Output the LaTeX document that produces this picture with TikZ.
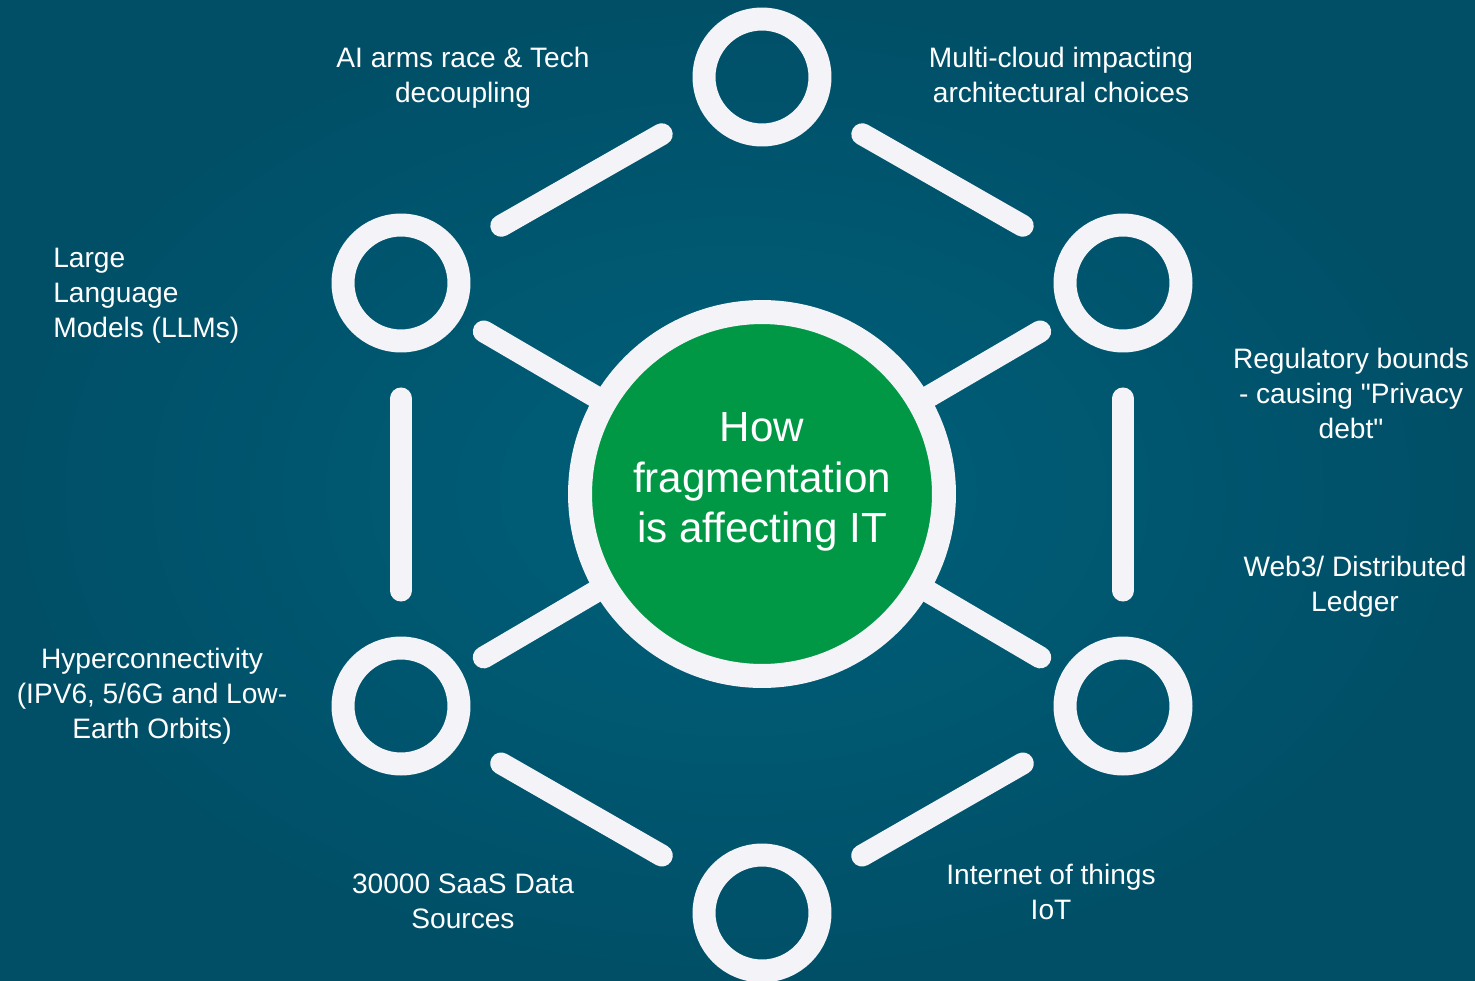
\documentclass[tikz,border=0pt]{standalone}
\usepackage{xcolor}
\usepackage{fontspec}
\usepackage{tikz}
\setmainfont[Ligatures=TeXOff]{Liberation Sans}

\definecolor{tealbg}{HTML}{00607A}
\definecolor{tealdark}{HTML}{004F67}
\definecolor{ringwhite}{HTML}{F4F4F8}
\definecolor{hubgreen}{HTML}{009845}

\begin{document}
\begin{tikzpicture}[x=0.02cm,y=-0.02cm,
	ring/.style={circle,draw=ringwhite,line width=0.46cm,minimum size=2.32cm,inner sep=0pt,outer sep=0pt},
	hub/.style={circle,draw=ringwhite,fill=hubgreen,line width=0.48cm,minimum size=7.28cm,inner sep=0pt,outer sep=0pt},
	bar/.style={draw=ringwhite,line width=0.44cm,line cap=round,shorten <=1.15cm,shorten >=1.15cm},
	spoke/.style={draw=ringwhite,line width=0.44cm,line cap=round,shorten <=0.76cm},
	lbl/.style={text=white,align=center,inner sep=0pt,font=\fontsize{16}{19.9}\selectfont}]
	 \useasboundingbox (0,0) rectangle (1475,981);
	 \shade[inner color=tealbg,outer color=tealdark] (0,0) rectangle (1475,981);
	 % hub and the six rings
	 \node[hub] (hub) at (762,494) {};
	 \node[ring] (top) at (762,77) {};
	 \node[ring] (topleft) at (401,283) {};
	 \node[ring] (topright) at (1123,283) {};
	 \node[ring] (botleft) at (401,706) {};
	 \node[ring] (botright) at (1123,706) {};
	 \node[ring] (bot) at (762,913) {};
	 \node[text=white,align=center,inner sep=0pt,font=\fontsize{24}{28.7}\selectfont] (hubtext) at ([yshift=0.24cm]hub.center) {How\\fragmentation\\is affecting IT};
	 % spokes to the hub
	 \draw[spoke] (topleft) -- (hub);
	 \draw[spoke] (topright) -- (hub);
	 \draw[spoke] (botleft) -- (hub);
	 \draw[spoke] (botright) -- (hub);
	 % hexagon bars
	 \draw[bar] (topleft) -- (top);
	 \draw[bar] (top) -- (topright);
	 \draw[bar] (topright) -- (botright);
	 \draw[bar] (botright) -- (bot);
	 \draw[bar] (bot) -- (botleft);
	 \draw[bar] (botleft) -- (topleft);
	 % labels
	 \node[lbl] (aiarms) at (463,78) {AI arms race \& Tech\\decoupling};
	 \node[lbl] (multicloud) at (1061,75) {Multi-cloud impacting\\architectural choices};
	 \node[lbl,anchor=west,align=left] (llms) at (53,296) {Large\\Language\\Models (LLMs)};
	 \node[lbl] (regulatory) at (1351,393) {Regulatory bounds\\- causing "Privacy\\debt"};
	 \node[lbl] (web3) at (1355,587) {Web3/ Distributed\\Ledger};
	 \node[lbl] (hyper) at (152,696) {Hyperconnectivity\\(IPV6, 5/6G and Low-\\Earth Orbits)};
	 \node[lbl] (saas) at (463,901) {30000 SaaS Data\\Sources};
	 \node[lbl] (iot) at (1051,892) {Internet of things\\IoT};
\end{tikzpicture}
\end{document}
